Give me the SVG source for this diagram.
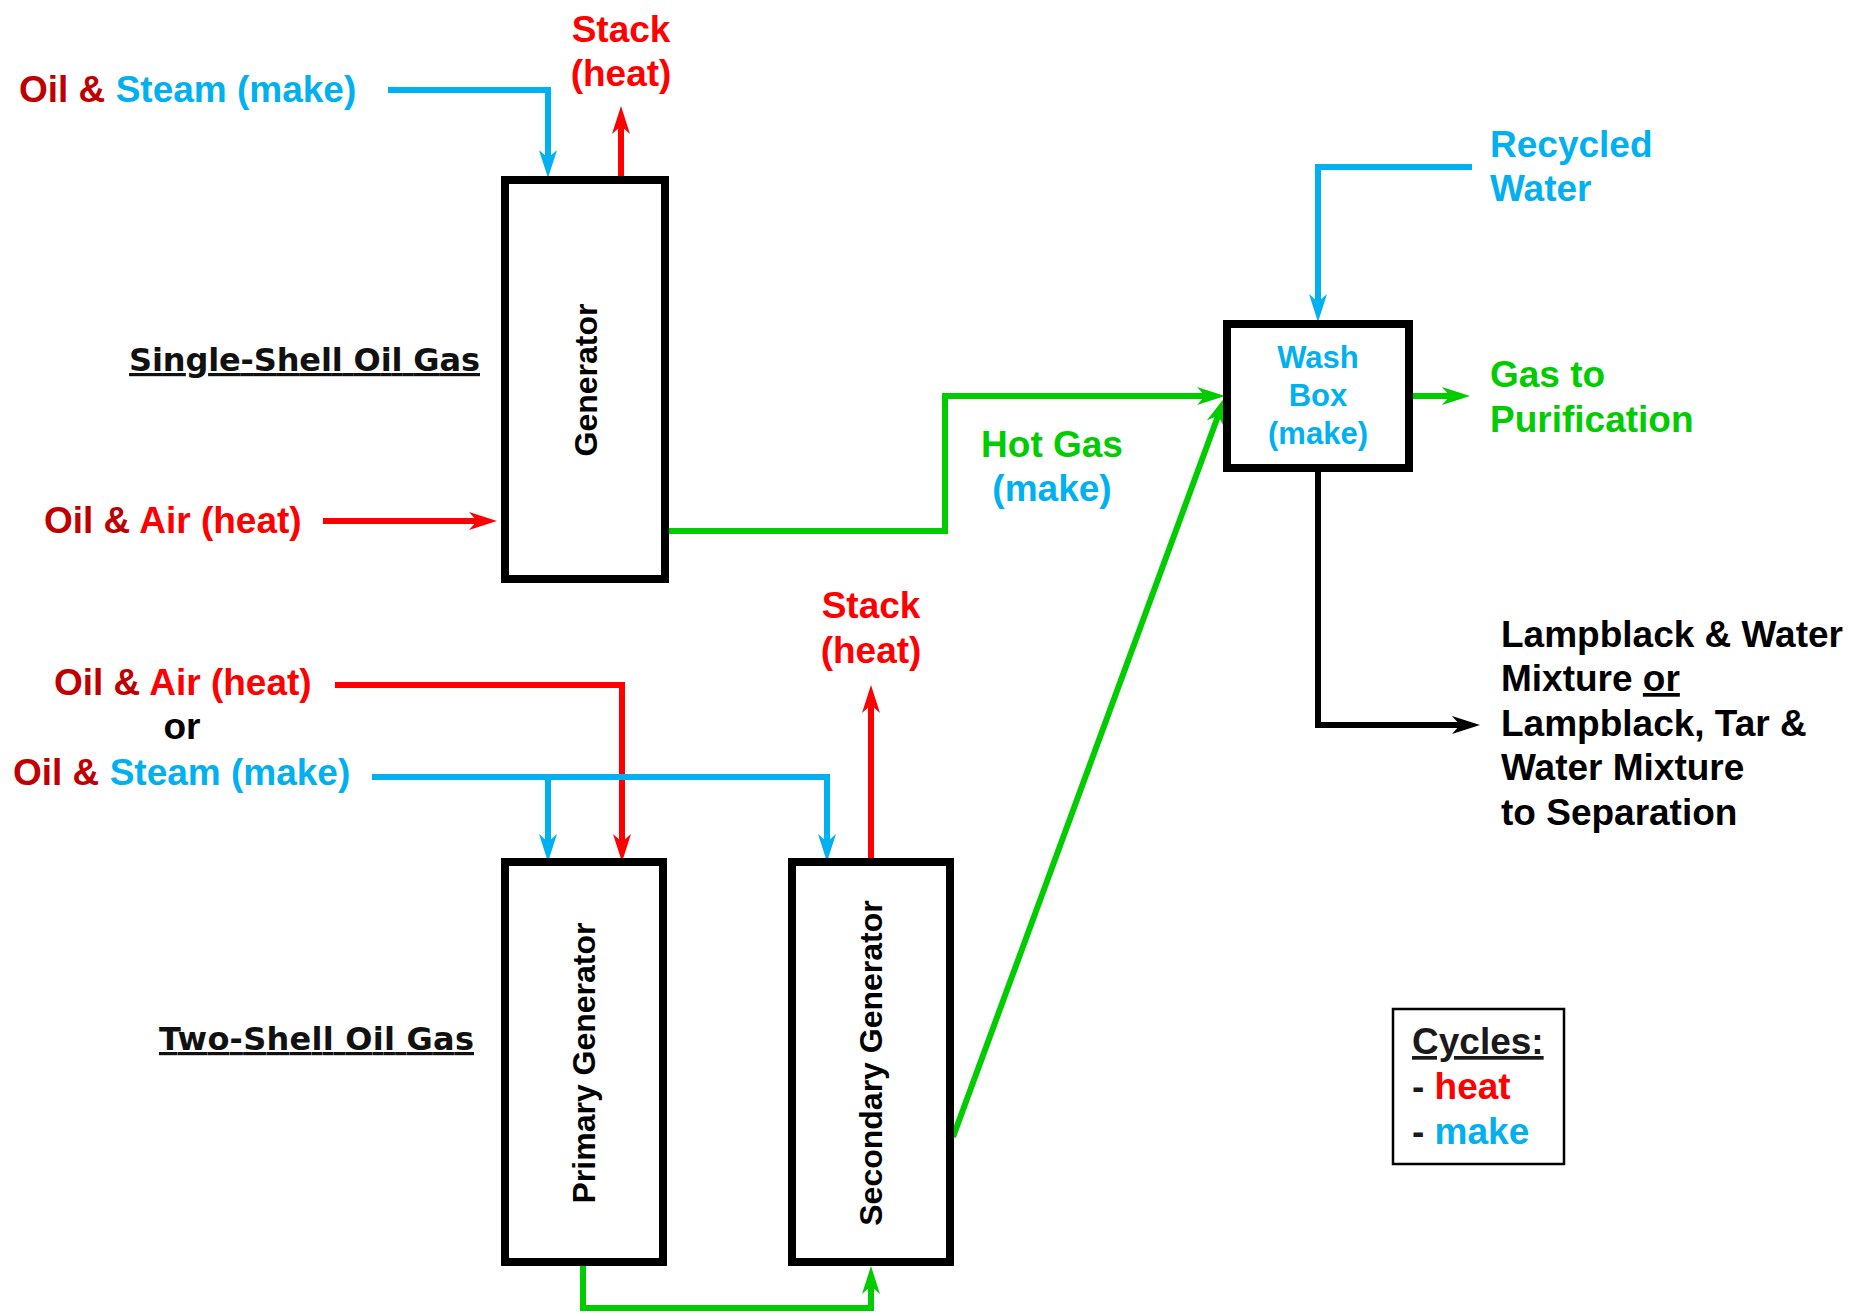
<svg xmlns="http://www.w3.org/2000/svg" width="1850" height="1313" viewBox="0 0 1850 1313">
<style>
text{font-family:"Liberation Sans",Arial,sans-serif;font-weight:bold;font-size:37px}
.dr{fill:#C00000}.rd{fill:#FF0000}.bl{fill:#00B0F0}.gr{fill:#00CC00}.bk{fill:#000}
.box{fill:#fff;stroke:#000;stroke-width:8}
.vt{font-size:32px;fill:#000}
.sec{font-family:"DejaVu Sans",Verdana,sans-serif;font-size:32px;fill:#111;text-decoration:underline}
.wl{font-size:31px;fill:#00B0F0}
.ln{fill:none;stroke-width:6}
.lb{stroke:#00B0F0}.lr{stroke:#FF0000}.lg{stroke:#00CC00}.lk{stroke:#000}
</style>
<defs>
<marker id="ab" markerUnits="userSpaceOnUse" orient="auto" refX="-20" refY="0" markerWidth="40" markerHeight="24" overflow="visible"><path d="M0,0 L-28,-9 L-20,0 L-28,9 Z" fill="#00B0F0"/></marker>
<marker id="ar" markerUnits="userSpaceOnUse" orient="auto" refX="-20" refY="0" markerWidth="40" markerHeight="24" overflow="visible"><path d="M0,0 L-28,-9 L-20,0 L-28,9 Z" fill="#FF0000"/></marker>
<marker id="ag" markerUnits="userSpaceOnUse" orient="auto" refX="-20" refY="0" markerWidth="40" markerHeight="24" overflow="visible"><path d="M0,0 L-28,-9 L-20,0 L-28,9 Z" fill="#00CC00"/></marker>
<marker id="ak" markerUnits="userSpaceOnUse" orient="auto" refX="-20" refY="0" markerWidth="40" markerHeight="24" overflow="visible"><path d="M0,0 L-28,-9 L-20,0 L-28,9 Z" fill="#000"/></marker>
</defs>
<rect width="1850" height="1313" fill="#fff"/>

<g id="connectors">
<path class="ln lb" d="M388,90 H548 V158" marker-end="url(#ab)"/>
<path class="ln lr" d="M621,177 V126" marker-end="url(#ar)"/>
<path class="ln lr" d="M323,521 H477" marker-end="url(#ar)"/>
<path class="ln lg" d="M665,531 H945 V396 H1205" marker-end="url(#ag)"/>
<path class="ln lb" d="M1472,167 H1318 V302" marker-end="url(#ab)"/>
<path class="ln lg" d="M1413,396 H1450" marker-end="url(#ag)"/>
<path class="ln lk" d="M1318,472 V725 H1460" marker-end="url(#ak)"/>
<path class="ln lg" d="M953,1137 L1218.1,415.8" marker-end="url(#ag)"/>
<path class="ln lr" d="M335,685 H622 V842" marker-end="url(#ar)"/>
<path class="ln lb" d="M372,777 H827 V842" marker-end="url(#ab)"/>
<path class="ln lb" d="M548,777 V842" marker-end="url(#ab)"/>
<path class="ln lr" d="M871,858 V705" marker-end="url(#ar)"/>
<path class="ln lg" d="M583,1266 V1308 H871 V1286" marker-end="url(#ag)"/>
</g>

<g id="generator">
<rect class="box" x="505" y="180" width="160" height="399"/>
<text class="vt" transform="translate(597,380) rotate(-90)" text-anchor="middle">Generator</text>
</g>
<g id="primary-generator">
<rect class="box" x="505" y="862" width="158" height="400"/>
<text class="vt" transform="translate(595,1063) rotate(-90)" text-anchor="middle">Primary Generator</text>
</g>
<g id="secondary-generator">
<rect class="box" x="792" y="862" width="158" height="400"/>
<text class="vt" transform="translate(882,1063) rotate(-90)" text-anchor="middle">Secondary Generator</text>
</g>
<g id="wash-box">
<rect class="box" x="1227" y="324" width="182" height="144"/>
<text class="wl" x="1318" y="368" text-anchor="middle">Wash</text>
<text class="wl" x="1318" y="406" text-anchor="middle">Box</text>
<text class="wl" x="1318" y="444" text-anchor="middle">(make)</text>
</g>

<g id="label-single-shell"><text class="sec" x="129" y="371" textLength="351" lengthAdjust="spacing">Single-Shell Oil Gas</text></g>
<g id="label-two-shell"><text class="sec" x="159" y="1050" textLength="315" lengthAdjust="spacing">Two-Shell Oil Gas</text></g>

<g id="input-top"><text x="19" y="102"><tspan class="dr">Oil &amp; </tspan><tspan class="bl">Steam (make)</tspan></text></g>
<g id="stack-top">
<text class="rd" x="621" y="42" text-anchor="middle">Stack</text>
<text class="rd" x="621" y="86" text-anchor="middle">(heat)</text>
</g>
<g id="air-top"><text x="44" y="533"><tspan class="dr">Oil &amp; </tspan><tspan class="rd">Air (heat)</tspan></text></g>
<g id="hot-gas">
<text class="gr" x="1052" y="457" text-anchor="middle">Hot Gas</text>
<text class="bl" x="1052" y="501" text-anchor="middle">(make)</text>
</g>
<g id="recycled-water">
<text class="bl" x="1490" y="157">Recycled</text>
<text class="bl" x="1490" y="201">Water</text>
</g>
<g id="gas-purification">
<text class="gr" x="1490" y="387">Gas to</text>
<text class="gr" x="1490" y="432">Purification</text>
</g>
<g id="lampblack">
<text class="bk" x="1501" y="647">Lampblack &amp; Water</text>
<text class="bk" x="1501" y="691">Mixture <tspan text-decoration="underline">or</tspan></text>
<text class="bk" x="1501" y="736">Lampblack, Tar &amp;</text>
<text class="bk" x="1501" y="780">Water Mixture</text>
<text class="bk" x="1501" y="825">to Separation</text>
</g>
<g id="inputs-bottom">
<text x="54" y="695"><tspan class="dr">Oil &amp; </tspan><tspan class="rd">Air (heat)</tspan></text>
<text class="bk" x="182" y="739" text-anchor="middle">or</text>
<text x="13" y="785"><tspan class="dr">Oil &amp; </tspan><tspan class="bl">Steam (make)</tspan></text>
</g>
<g id="stack-bottom">
<text class="rd" x="871" y="618" text-anchor="middle">Stack</text>
<text class="rd" x="871" y="663" text-anchor="middle">(heat)</text>
</g>
<g id="legend">
<rect x="1393" y="1009" width="171" height="155" fill="#fff" stroke="#000" stroke-width="2.5"/>
<text x="1412" y="1054" fill="#1a1a1a" text-decoration="underline">Cycles:</text>
<text x="1412" y="1099"><tspan fill="#1a1a1a">- </tspan><tspan class="rd">heat</tspan></text>
<text x="1412" y="1144"><tspan fill="#1a1a1a">- </tspan><tspan class="bl">make</tspan></text>
</g>
</svg>
